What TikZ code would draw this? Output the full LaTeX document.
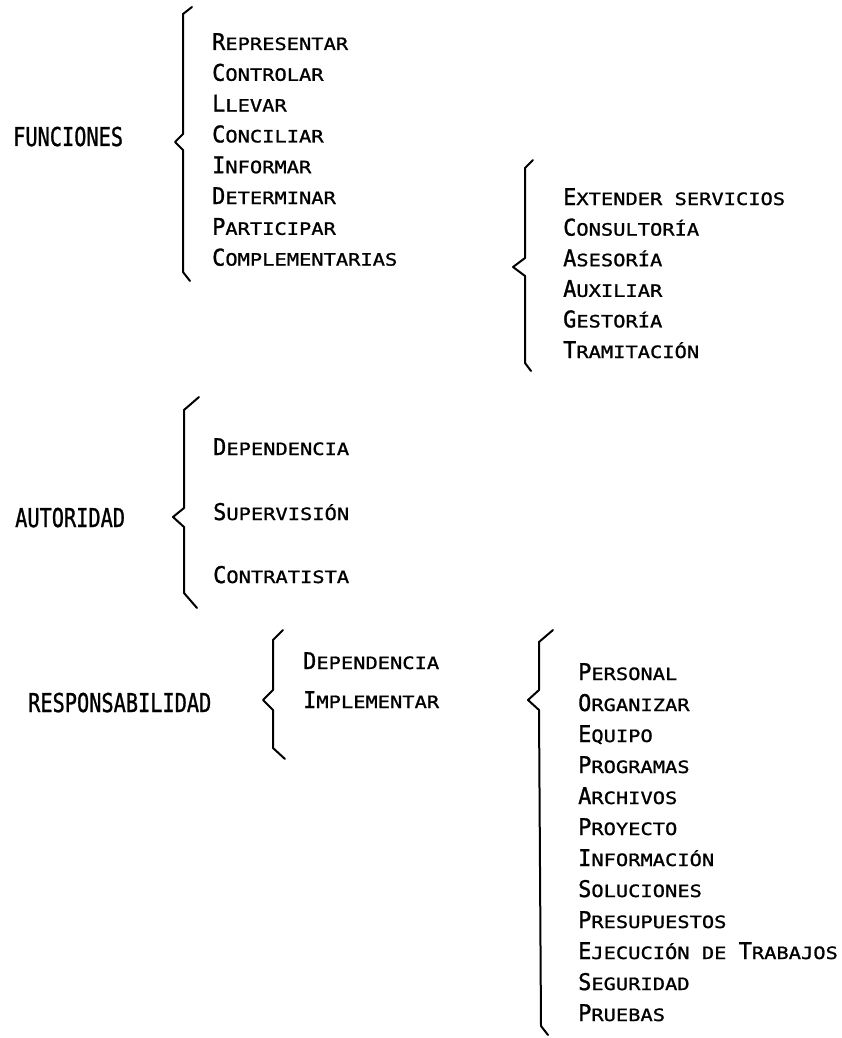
\documentclass[tikz,border=0pt]{standalone}
\usepackage{fontspec}
\newfontfamily\labelfont[FakeStretch=0.78,FakeBold=1]{DejaVu Sans Mono}
\newfontfamily\itemfont[FakeStretch=1.2,FakeBold=1.2]{DejaVu Sans Mono}
\newfontfamily\initfont[FakeStretch=0.95,FakeBold=1.2]{DejaVu Sans Mono}
\newcommand{\smcap}[2]{{\initfont\fontsize{23}{23}\selectfont #1}{\itemfont\fontsize{17}{17}\selectfont #2}}
\tikzset{
  heading/.style={anchor=base west,inner sep=0pt,font=\labelfont\fontsize{26}{26}\selectfont},
  entry/.style={anchor=base west,inner sep=0pt},
  curly/.style={line width=2pt,line join=round,line cap=round},
}

\begin{document}
\begin{tikzpicture}[x=1pt,y=-1pt]
  \useasboundingbox (0,0) rectangle (841,1038);
  % funciones
  \node (funciones) [heading] at (13,146) {FUNCIONES};
  \draw[curly] (192,7) -- (183,14) -- (183,134) -- (175,142) -- (183,150) -- (183,272) -- (190,281);
  \foreach \txt [count=\i] in {\smcap{R}{EPRESENTAR},\smcap{C}{ONTROLAR},\smcap{L}{LEVAR},
      \smcap{C}{ONCILIAR},\smcap{I}{NFORMAR},\smcap{D}{ETERMINAR},\smcap{P}{ARTICIPAR},
      \smcap{C}{OMPLEMENTARIAS}}
    \node (fun\i) [entry] at (212,{50+30.8*(\i-1)}) {\txt};
  \draw[curly] (533,160) -- (525,168) -- (525,258) -- (513,267) -- (525,276) -- (525,363) -- (531,371);
  \foreach \txt [count=\i] in {\smcap{E}{XTENDER SERVICIOS},\smcap{C}{ONSULTORÍA},\smcap{A}{SESORÍA},
      \smcap{A}{UXILIAR},\smcap{G}{ESTORÍA},\smcap{T}{RAMITACIÓN}}
    \node (ext\i) [entry] at (563,{205+30.6*(\i-1)}) {\txt};
  % autoridad
  \node (autoridad) [heading] at (15,527) {AUTORIDAD};
  \draw[curly] (199,397) -- (184,410) -- (184,508) -- (173,517) -- (184,527) -- (184,593) -- (197,608);
  \node (aut1) [entry] at (213,455) {\smcap{D}{EPENDENCIA}};
  \node (aut2) [entry] at (213,520) {\smcap{S}{UPERVISIÓN}};
  \node (aut3) [entry] at (213,583) {\smcap{C}{ONTRATISTA}};
  % responsabilidad
  \node (responsabilidad) [heading] at (28,712) {RESPONSABILIDAD};
  \draw[curly] (283,630) -- (273,640) -- (273,690) -- (263,700) -- (273,710) -- (273,748) -- (285,759);
  \node (res1) [entry] at (303,669) {\smcap{D}{EPENDENCIA}};
  \node (res2) [entry] at (303,708) {\smcap{I}{MPLEMENTAR}};
  \draw[curly] (553,630) -- (539,642) -- (539,690) -- (528,700) -- (539,710) -- (541,1026) -- (548,1035);
  \foreach \txt [count=\i] in {\smcap{P}{ERSONAL},\smcap{O}{RGANIZAR},\smcap{E}{QUIPO},
      \smcap{P}{ROGRAMAS},\smcap{A}{RCHIVOS},\smcap{P}{ROYECTO},\smcap{I}{NFORMACIÓN},
      \smcap{S}{OLUCIONES},\smcap{P}{RESUPUESTOS},\smcap{E}{JECUCIÓN DE }\smcap{T}{RABAJOS},
      \smcap{S}{EGURIDAD},\smcap{P}{RUEBAS}}
    \node (tar\i) [entry] at (578,{680+31*(\i-1)}) {\txt};
\end{tikzpicture}
\end{document}
